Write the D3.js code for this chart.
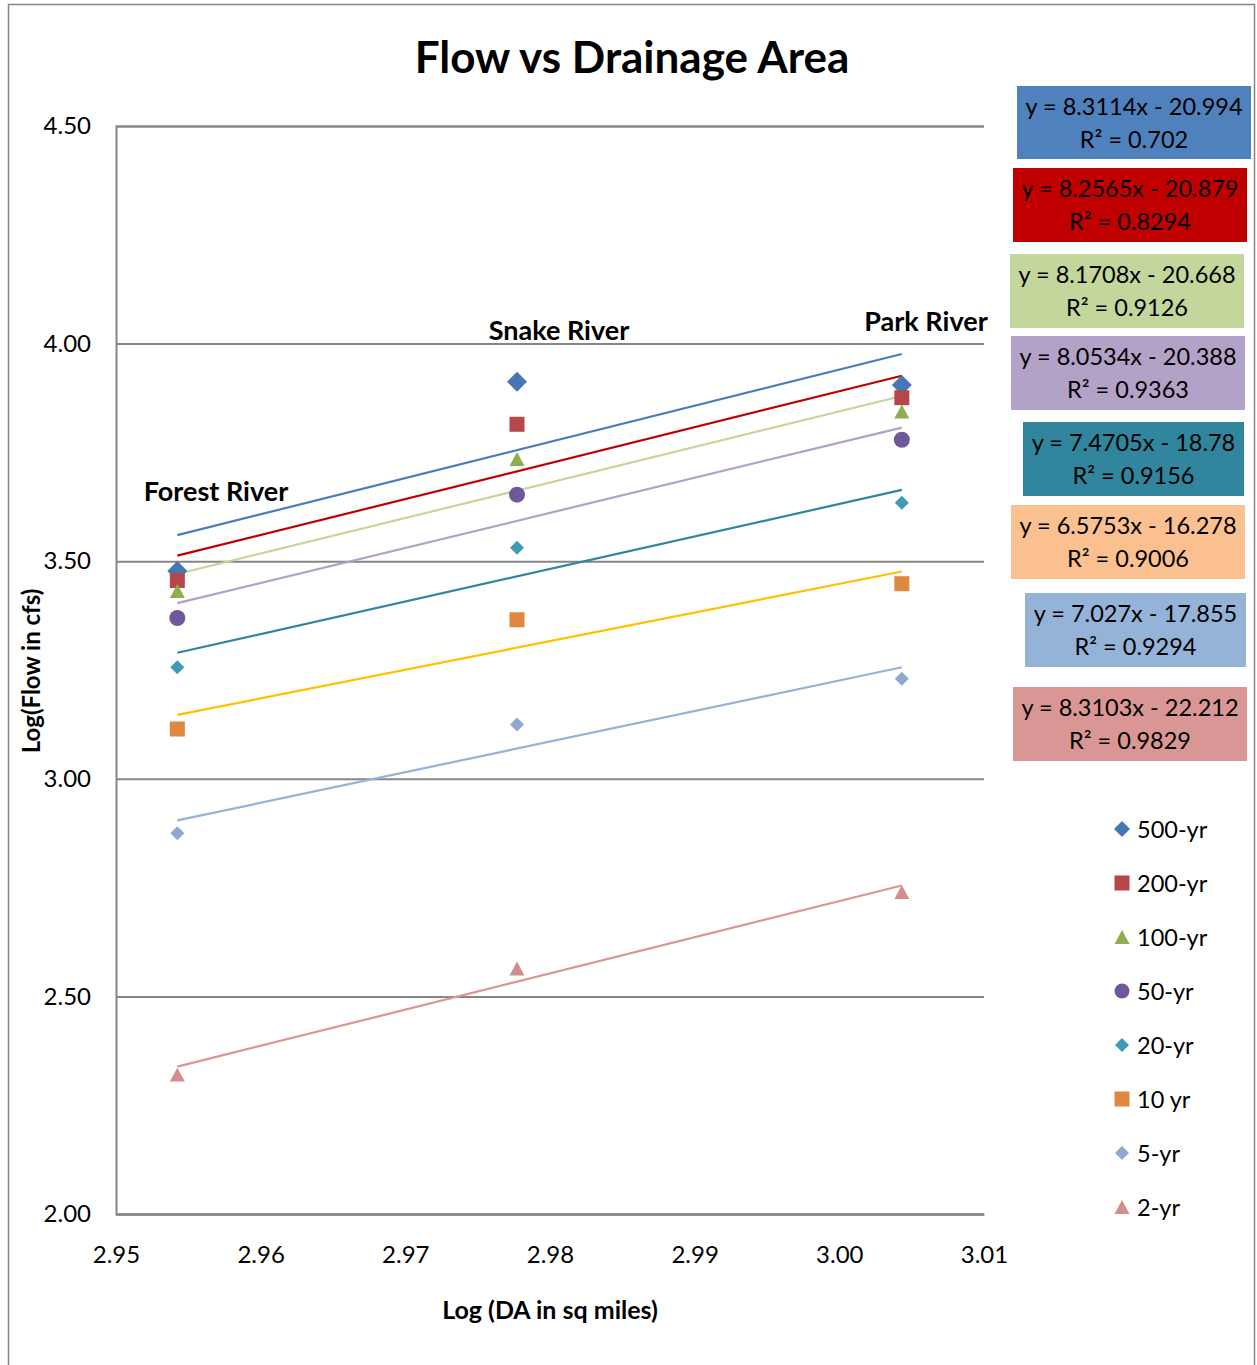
<!DOCTYPE html>
<html>
<head>
<meta charset="utf-8">
<script src="https://cdn.jsdelivr.net/npm/d3@7"></script>
<style>
  html, body { margin: 0; padding: 0; background: #fff; }
  svg { display: block; font-family: Lato, "Open Sans", sans-serif; }
</style>
</head>
<body>
<svg id="chart" width="1257" height="1365"></svg>
<script>
// ---- Data -------------------------------------------------------------
// log10 of drainage area for each gauged river
const rivers = ["Forest River", "Snake River", "Park River"];
const logDA = [2.95424, 2.97772, 3.00432];

// recurrence-interval series (log10 of peak flow, cfs) per river
const seriesNames = ["500-yr", "200-yr", "100-yr", "50-yr", "20-yr", "10 yr", "5-yr", "2-yr"];
const flow500 = [3.4775, 3.9125, 3.9049];
const flow200 = [3.4557, 3.8146, 3.8757];
const flow100 = [3.4315, 3.7348, 3.8440];
const flow50  = [3.3695, 3.6528, 3.7790];
const flow20  = [3.2562, 3.5310, 3.6342];
const flow10  = [3.1144, 3.3654, 3.4483];
const flow5   = [2.8748, 3.1248, 3.2298];
const flow2   = [2.3201, 2.5641, 2.7394];

// linear trendline fits (y = slope * x + intercept) and R²
const slopes     = [8.3114, 8.2565, 8.1708, 8.0534, 7.4705, 6.5753, 7.027, 8.3103];
const intercepts = [-20.994, -20.879, -20.668, -20.388, -18.78, -16.278, -17.855, -22.212];
const rSquared   = ["0.702", "0.8294", "0.9126", "0.9363", "0.9156", "0.9006", "0.9294", "0.9829"];
const slopeText  = ["8.3114", "8.2565", "8.1708", "8.0534", "7.4705", "6.5753", "7.027", "8.3103"];
const interText  = ["20.994", "20.879", "20.668", "20.388", "18.78", "16.278", "17.855", "22.212"];

// axis ticks
const xTicks = [2.95, 2.96, 2.97, 2.98, 2.99, 3.00, 3.01];
const yTicks = [2.00, 2.50, 3.00, 3.50, 4.00, 4.50];

// ---- Styling ----------------------------------------------------------
const markerShapes = ["diamond", "square", "triangle", "circle", "diamond", "square", "diamond", "triangle"];
const markerSizes  = [20, 15, 15, 16, 14, 15, 14, 15];   // marker width in px
const legendSizes  = [16, 15, 15, 15, 14, 15, 14, 15];
const markerColors = ["#4676B3", "#B5474A", "#8FAE4E", "#70579A", "#3F9AB6", "#E08740", "#8FA8D2", "#D38D8B"];
const lineColors   = ["#4A7EBB", "#C00000", "#C3D69B", "#B3A2C7", "#31859C", "#FFC000", "#95B3D7", "#D99694"];
const boxColors    = ["#4F81BD", "#C00000", "#C3D69B", "#B3A2C7", "#31859C", "#FAC090", "#95B3D7", "#DA9694"];
// equation box placement [x, y, w, h]
const boxes = [
  [1017, 86, 234, 73], [1013, 168, 234, 74], [1010, 254, 234, 74], [1011, 336, 234, 74],
  [1023, 422, 221, 74], [1011, 505, 234, 74], [1025, 593, 221, 74], [1013, 687, 234, 74]
];

const allFlows = [flow500, flow200, flow100, flow50, flow20, flow10, flow5, flow2];
const series = seriesNames.map((name, i) => ({
  name, i,
  points: logDA.map((x, j) => ({ x, y: allFlows[i][j] })),
  slope: slopes[i], intercept: intercepts[i]
}));

// marker outline centred on the data point, w = overall width
function markerPath(shape, w) {
  const h = w / 2;
  const p = d3.path();
  if (shape === "diamond") {
    p.moveTo(0, -h); p.lineTo(h, 0); p.lineTo(0, h); p.lineTo(-h, 0); p.closePath();
  } else if (shape === "square") {
    p.rect(-h, -h, w, w);
  } else if (shape === "triangle") {
    const th = w * 0.92 / 2;
    p.moveTo(0, -th); p.lineTo(h, th); p.lineTo(-h, th); p.closePath();
  } else {
    p.arc(0, 0, h, 0, 2 * Math.PI);
  }
  return p.toString();
}

// ---- Layout -----------------------------------------------------------
const svg = d3.select("#chart");
const grey = "#868686";
const plot = { left: 116, right: 984, top: 126, bottom: 1214 };

const x = d3.scaleLinear().domain([2.95, 3.01]).range([plot.left, plot.right]);
const y = d3.scaleLinear().domain([2.0, 4.5]).range([plot.bottom, plot.top]);

// outer chart frame
svg.append("rect")
  .attr("x", 8.5).attr("y", 4.5).attr("width", 1246).attr("height", 1380)
  .attr("fill", "none").attr("stroke", grey).attr("stroke-width", 1.5);

// title
svg.append("text")
  .attr("x", 632).attr("y", 56)
  .attr("text-anchor", "middle").attr("dominant-baseline", "central")
  .attr("font-weight", 700).attr("font-size", 44).attr("fill", "#000")
  .text("Flow vs Drainage Area");

// horizontal gridlines + y axis
const yAxis = d3.axisLeft(y).tickValues(yTicks).tickFormat(d3.format(".2f"))
  .tickSize(-(plot.right - plot.left)).tickPadding(25);
const gy = svg.append("g").attr("transform", `translate(${plot.left},0)`).call(yAxis);
gy.select(".domain").attr("stroke", grey).attr("stroke-width", 2);
gy.selectAll(".tick line").attr("stroke", grey).attr("stroke-width", 2);
gy.selectAll(".tick text").attr("font-size", 24).attr("fill", "#000")
  .attr("font-family", "Lato, sans-serif");

// x axis (no tick marks, labels only)
const xAxis = d3.axisBottom(x).tickValues(xTicks).tickFormat(d3.format(".2f"))
  .tickSize(0).tickPadding(32);
const gx = svg.append("g").attr("transform", `translate(0,${plot.bottom})`).call(xAxis);
gx.select(".domain").attr("stroke", grey).attr("stroke-width", 2);
gx.selectAll(".tick text").attr("font-size", 24).attr("fill", "#000")
  .attr("font-family", "Lato, sans-serif");

// axis titles
svg.append("text")
  .attr("transform", "translate(30,671) rotate(-90)")
  .attr("text-anchor", "middle").attr("dominant-baseline", "central")
  .attr("font-weight", 700).attr("font-size", 24).text("Log(Flow in cfs)");
svg.append("text")
  .attr("x", 550).attr("y", 1309)
  .attr("text-anchor", "middle").attr("dominant-baseline", "central")
  .attr("font-weight", 700).attr("font-size", 25).text("Log (DA in sq miles)");

// trendlines from the fitted equations, spanning the observed drainage areas
const xExt = d3.extent(logDA);
const line = d3.line().x(d => x(d[0])).y(d => y(d[1]));
svg.append("g").selectAll("path").data(series).join("path")
  .attr("d", s => line(xExt.map(v => [v, s.slope * v + s.intercept])))
  .attr("fill", "none")
  .attr("stroke", s => lineColors[s.i])
  .attr("stroke-width", 2.2);

// markers
const gm = svg.append("g");
series.forEach(s => {
  gm.selectAll(null).data(s.points).join("path")
    .attr("transform", d => `translate(${x(d.x)},${y(d.y)})`)
    .attr("d", markerPath(markerShapes[s.i], markerSizes[s.i]))
    .attr("fill", markerColors[s.i]);
});

// river labels
const riverLabelPos = [[216, 490], [559, 329], [926, 320]];
svg.append("g").selectAll("text").data(rivers).join("text")
  .attr("x", (d, i) => riverLabelPos[i][0]).attr("y", (d, i) => riverLabelPos[i][1])
  .attr("text-anchor", "middle").attr("dominant-baseline", "central")
  .attr("font-weight", 700).attr("font-size", 27).text(d => d);

// equation boxes
const gb = svg.append("g").selectAll("g").data(series).join("g")
  .attr("transform", s => `translate(${boxes[s.i][0]},${boxes[s.i][1]})`);
gb.append("rect")
  .attr("width", s => boxes[s.i][2]).attr("height", s => boxes[s.i][3])
  .attr("fill", s => boxColors[s.i]);
gb.append("text")
  .attr("x", s => boxes[s.i][2] / 2).attr("y", 20)
  .attr("text-anchor", "middle").attr("dominant-baseline", "central")
  .attr("font-size", 23.5).attr("fill", "#000")
  .text(s => `y = ${slopeText[s.i]}x - ${interText[s.i]}`);
gb.append("text")
  .attr("x", s => boxes[s.i][2] / 2).attr("y", 53)
  .attr("text-anchor", "middle").attr("dominant-baseline", "central")
  .attr("font-size", 23.5).attr("fill", "#000")
  .text(s => `R² = ${rSquared[s.i]}`);

// legend
const gl = svg.append("g").selectAll("g").data(series).join("g")
  .attr("transform", s => `translate(1122,${829 + s.i * 54})`);
gl.append("path")
  .attr("d", s => markerPath(markerShapes[s.i], legendSizes[s.i]))
  .attr("fill", s => markerColors[s.i]);
gl.append("text")
  .attr("x", 15).attr("y", 0).attr("dominant-baseline", "central")
  .attr("font-size", 23.5).attr("fill", "#000")
  .text(s => s.name);
</script>
</body>
</html>
